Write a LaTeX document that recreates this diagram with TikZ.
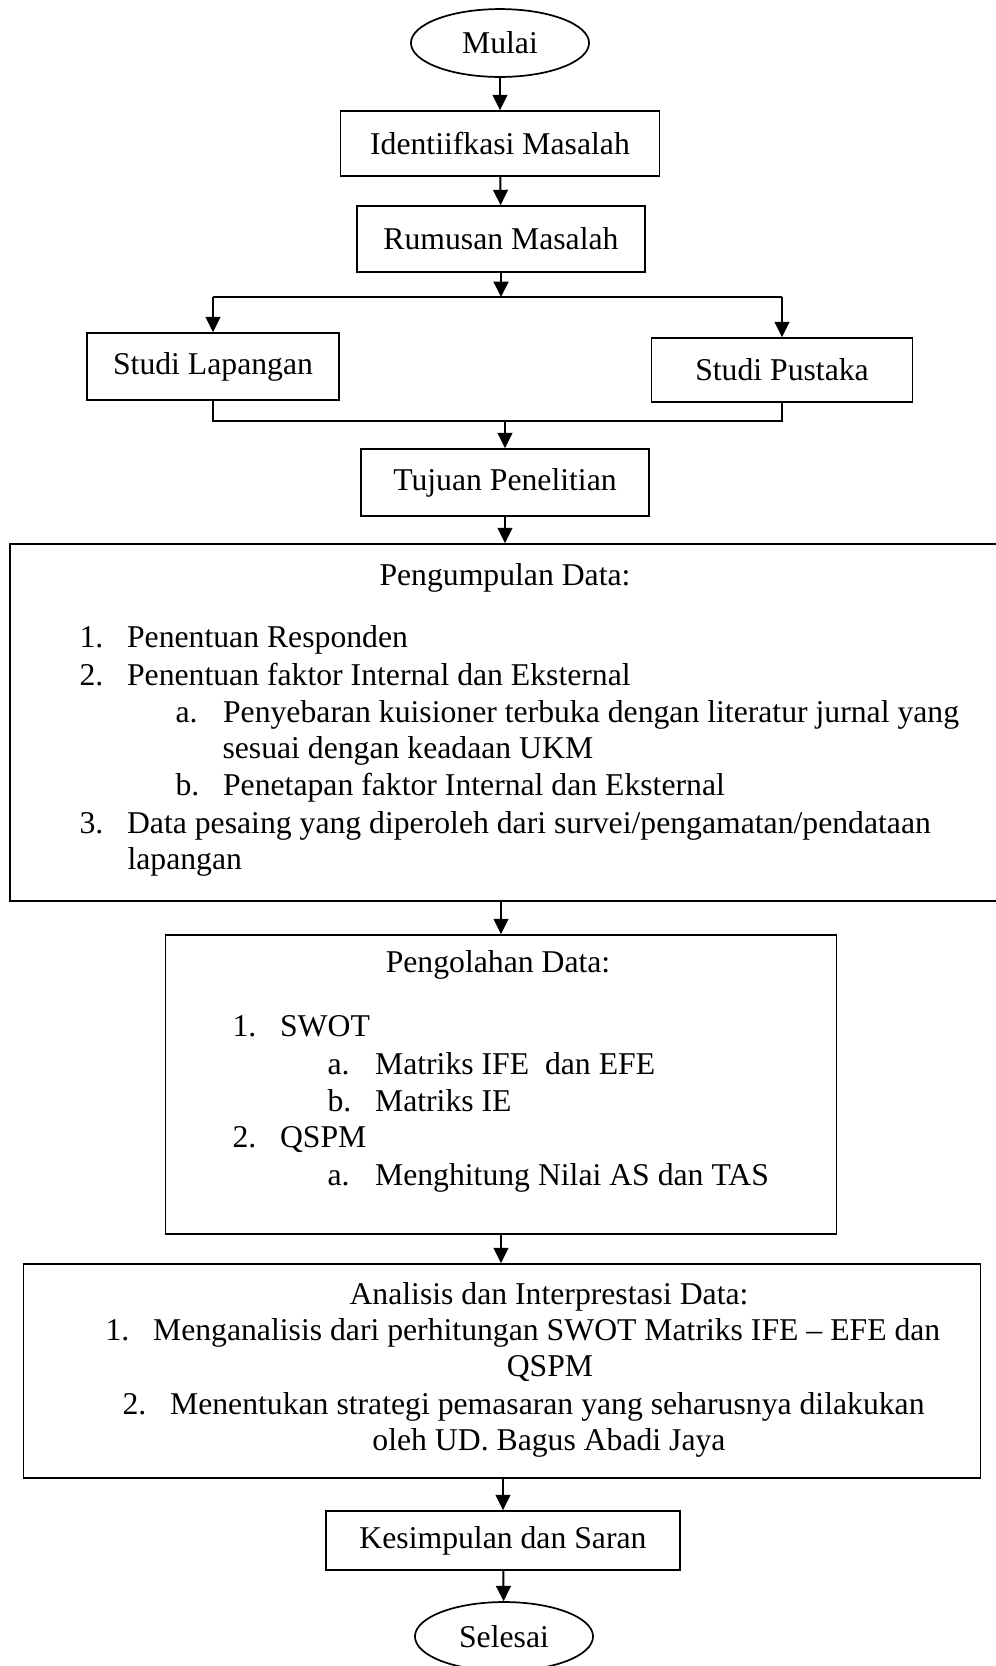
\documentclass[tikz,border=0pt]{standalone}
\usepackage{fontspec}
\setmainfont{Liberation Serif}
\usetikzlibrary{shapes.geometric, arrows.meta}

\newcommand{\butir}[2]{\makebox[18pt][l]{#1}#2}

\begin{document}
\begin{tikzpicture}[x=0.3785pt, y=-0.3785pt, font=\fontsize{12}{14}\selectfont,
        kotak/.style={draw, line width=0.65pt, inner sep=0pt},
        terminal/.style={draw, ellipse, line width=0.65pt, inner sep=0pt},
        teks/.style={anchor=base west, inner sep=0pt},
        judul/.style={anchor=base, inner sep=0pt},
        garis/.style={line width=0.75pt},
        panah/.style={line width=0.75pt, -{Triangle[length=5.8pt, width=5.6pt]}}]
    \useasboundingbox (0,0) rectangle (996,1666);

    % Awal dan kotak bagian atas
    \node[terminal, minimum width=67.4pt, minimum height=25.7pt] (mulai) at (500,43) {Mulai};
    \node[kotak, minimum width=120.7pt, minimum height=24.6pt] (ident) at (500,143.5) {Identiifkasi Masalah};
    \node[kotak, minimum width=109pt, minimum height=25pt] (rumusan) at (501,239) {Rumusan Masalah};
    \coordinate (cabang) at (501,297);
    \node[kotak, minimum width=95.4pt, minimum height=25.4pt] (lapangan) at (213,366.5) {Studi Lapangan};
    \node[kotak, minimum width=98.8pt, minimum height=24.2pt] (pustaka) at (782,370) {Studi Pustaka};
    \coordinate (gabung) at (505,421);
    \node[kotak, minimum width=109pt, minimum height=25.4pt] (tujuan) at (505,482.5) {Tujuan Penelitian};

    % Pengumpulan data
    \node[kotak, minimum width=374.7pt, minimum height=135.1pt] (kumpul) at (505,722.5) {};
    \node[judul] (k0) at (505,585) {Pengumpulan Data:};
    \node[teks] (k1) at (79,647) {\butir{1.}{Penentuan Responden}};
    \node[teks] (k2) at (79,685) {\butir{2.}{Penentuan faktor Internal dan Eksternal}};
    \node[teks] (k3) at (175,722) {\butir{a.}{Penyebaran kuisioner terbuka dengan literatur jurnal yang}};
    \node[teks] (k4) at (222,758) {sesuai dengan keadaan UKM};
    \node[teks] (k5) at (175,795) {\butir{b.}{Penetapan faktor Internal dan Eksternal}};
    \node[teks] (k6) at (79,833) {\butir{3.}{Data pesaing yang diperoleh dari survei/pengamatan/pendataan}};
    \node[teks] (k7) at (127,869) {lapangan};

    % Pengolahan data
    \node[kotak, minimum width=254pt, minimum height=113.2pt] (olah) at (501,1084.5) {};
    \node[judul] (o0) at (498,972) {Pengolahan Data:};
    \node[teks] (o1) at (232,1036) {\butir{1.}{SWOT}};
    \node[teks] (o2) at (327,1074) {\butir{a.}{Matriks IFE\ \ dan EFE}};
    \node[teks] (o3) at (327,1111) {\butir{b.}{Matriks IE}};
    \node[teks] (o4) at (232,1147) {\butir{2.}{QSPM}};
    \node[teks] (o5) at (327,1185) {\butir{a.}{Menghitung Nilai AS dan TAS}};

    % Analisis dan interpretasi
    \node[kotak, minimum width=362.2pt, minimum height=81pt] (analisis) at (502,1371) {};
    \node[judul] (a0) at (549,1304) {Analisis dan Interprestasi Data:};
    \node[teks] (a1) at (105,1340) {\butir{1.}{Menganalisis dari perhitungan SWOT Matriks IFE -- EFE dan}};
    \node[judul] (a2) at (550,1376) {QSPM};
    \node[teks] (a3) at (122,1414) {\butir{2.}{Menentukan strategi pemasaran yang seharusnya dilakukan}};
    \node[judul] (a4) at (549,1450) {oleh UD. Bagus Abadi Jaya};

    % Akhir
    \node[kotak, minimum width=134pt, minimum height=22.3pt] (simpul) at (503,1540.5) {Kesimpulan dan Saran};
    \node[terminal, minimum width=67.4pt, minimum height=26.1pt] (selesai) at (504,1636.5) {Selesai};

    % Panah
    \draw[panah] (mulai) -- (ident);
    \draw[panah] (ident) -- (rumusan);
    \draw[panah] (rumusan) -- (cabang);
    \draw[garis] (cabang -| lapangan) -- (cabang -| pustaka);
    \draw[panah] (cabang -| lapangan) -- (lapangan);
    \draw[panah] (cabang -| pustaka) -- (pustaka);
    \draw[garis] (lapangan) |- (gabung) -| (pustaka);
    \draw[panah] (gabung) -- (tujuan);
    \draw[panah] (tujuan) -- (tujuan |- kumpul.north);
    \draw[panah] (kumpul.south -| olah) -- (olah);
    \draw[panah] (olah) -- (olah |- analisis.north);
    \draw[panah] (analisis.south -| simpul) -- (simpul);
    \draw[panah] (simpul) -- (selesai);
\end{tikzpicture}
\end{document}
